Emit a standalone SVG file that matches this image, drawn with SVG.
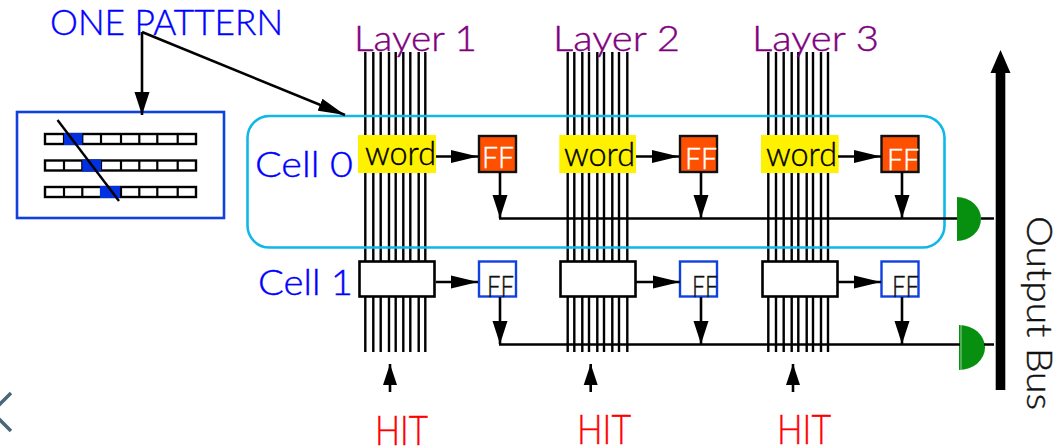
<svg xmlns="http://www.w3.org/2000/svg" width="1060" height="447" viewBox="0 0 1060 447">
<style>
text{font-family:"Lato","Open Sans","Liberation Sans",sans-serif;font-weight:300;stroke-width:.4px}
.lbl{font-size:36px;fill:#0000ff;stroke:#0000ff}
.layer{font-size:36px;fill:#800080;stroke:#800080}
.hit{font-size:42px;fill:#ff0000;stroke:#ff0000}
.word{font-size:33px;fill:#000;stroke:#000}
.ffw{font-size:29px;fill:#fff;stroke:#fff}
.ffk{font-size:29px;fill:#111;stroke:#111}
.out{font-size:36px;fill:#111;stroke:#111}
.bus{stroke:#000;stroke-width:2.6;fill:none}
.conn{stroke:#000;stroke-width:2.6;fill:none}
.wires line{stroke:#000;stroke-width:2.4}
.cellbox{fill:#fff;stroke:#000;stroke-width:2.6}
.ffo{fill:#ff5000;stroke:#111;stroke-width:2.4}
.ffb{fill:#fff;stroke:#1040e0;stroke-width:2.4}
.yellow{fill:#fff200}
.gate{fill:#078f10}
.row{fill:#fff;stroke:#000;stroke-width:2.4}
.div{stroke:#000;stroke-width:2.2;fill:none}
.sel{fill:#0030e0}
</style>
<defs>
<marker id="hm" markerUnits="userSpaceOnUse" markerWidth="28" markerHeight="14" refX="27" refY="7" orient="auto"><path d="M0 0.5L27 7L0 13.5z"/></marker>
<marker id="hd" markerUnits="userSpaceOnUse" markerWidth="24" markerHeight="16" refX="23" refY="8" orient="auto"><path d="M0 0.5L23 8L0 15.5z"/></marker>
<marker id="hh" markerUnits="userSpaceOnUse" markerWidth="22" markerHeight="16" refX="21" refY="8" orient="auto"><path d="M0 1L21 8L0 15z"/></marker>
</defs>

<g id="wires-layer-1" class="wires">
<line x1="365.3" y1="52" x2="365.3" y2="352"/><line x1="373.3" y1="52" x2="373.3" y2="352"/><line x1="380.7" y1="52" x2="380.7" y2="352"/><line x1="389" y1="52" x2="389" y2="352"/><line x1="395.7" y1="52" x2="395.7" y2="352"/><line x1="403.3" y1="52" x2="403.3" y2="352"/><line x1="410.3" y1="52" x2="410.3" y2="352"/><line x1="418.7" y1="52" x2="418.7" y2="352"/><line x1="425.3" y1="52" x2="425.3" y2="352"/>
</g>
<g id="wires-layer-2" class="wires">
<line x1="567.7" y1="52" x2="567.7" y2="352"/><line x1="574.3" y1="52" x2="574.3" y2="352"/><line x1="582.3" y1="52" x2="582.3" y2="352"/><line x1="589" y1="52" x2="589" y2="352"/><line x1="597.3" y1="52" x2="597.3" y2="352"/><line x1="604" y1="52" x2="604" y2="352"/><line x1="612.3" y1="52" x2="612.3" y2="352"/><line x1="619" y1="52" x2="619" y2="352"/><line x1="627.3" y1="52" x2="627.3" y2="352"/>
</g>
<g id="wires-layer-3" class="wires">
<line x1="768.3" y1="52" x2="768.3" y2="352"/><line x1="776" y1="52" x2="776" y2="352"/><line x1="783.7" y1="52" x2="783.7" y2="352"/><line x1="791.7" y1="52" x2="791.7" y2="352"/><line x1="798.3" y1="52" x2="798.3" y2="352"/><line x1="806.7" y1="52" x2="806.7" y2="352"/><line x1="813" y1="52" x2="813" y2="352"/><line x1="821" y1="52" x2="821" y2="352"/><line x1="828" y1="52" x2="828" y2="352"/>
</g>

<g id="layer-labels">
<text class="layer" x="354" y="51" textLength="123" lengthAdjust="spacingAndGlyphs">Layer 1</text>
<text class="layer" x="553" y="51" textLength="127" lengthAdjust="spacingAndGlyphs">Layer 2</text>
<text class="layer" x="752" y="51" textLength="127" lengthAdjust="spacingAndGlyphs">Layer 3</text>
</g>

<g id="cell-0-frame"><rect x="247.500" y="116" width="697" height="131.500" rx="22" fill="none" stroke="#10b8e8" stroke-width="2.600"/></g>

<g id="pattern-label"><text class="lbl" x="50" y="35" textLength="233" lengthAdjust="spacingAndGlyphs">ONE PATTERN</text></g>
<g id="cell-0-label"><text class="lbl" x="255" y="177" textLength="98" lengthAdjust="spacingAndGlyphs">Cell 0</text></g>
<g id="cell-1-label"><text class="lbl" x="258" y="295" textLength="95" lengthAdjust="spacingAndGlyphs">Cell 1</text></g>

<g id="pattern-box">
<rect x="17" y="112" width="207" height="106" fill="#fff" stroke="#1040e0" stroke-width="2.600"/>
<rect class="row" x="45" y="134" width="151" height="10"/>
<rect class="row" x="45" y="160.500" width="151" height="10"/>
<rect class="row" x="45" y="187" width="151" height="10"/>
<path class="div" d="M64 134v10M82.300 134v10M101 134v10M121 134v10M139.300 134v10M157.300 134v10M177.700 134v10M64 160.500v10M82.300 160.500v10M101 160.500v10M121 160.500v10M139.300 160.500v10M157.300 160.500v10M177.700 160.500v10M64 187v10M82.300 187v10M101 187v10M121 187v10M139.300 187v10M157.300 187v10M177.700 187v10"/>
<rect class="sel" x="64" y="133" width="18.300" height="12"/>
<rect class="sel" x="82.300" y="159.500" width="18.700" height="12"/>
<rect class="sel" x="100" y="186" width="20" height="12"/>
<line x1="57.500" y1="120" x2="119" y2="201" stroke="#000" stroke-width="2.400"/>
</g>

<g id="word-0-0"><rect class="yellow" x="358" y="135" width="78" height="38"/><text class="word" x="365" y="165" textLength="71" lengthAdjust="spacingAndGlyphs">word</text></g>
<g id="word-0-1"><rect class="yellow" x="559.300" y="135" width="76.700" height="38"/><text class="word" x="564" y="166" textLength="71" lengthAdjust="spacingAndGlyphs">word</text></g>
<g id="word-0-2"><rect class="yellow" x="761" y="135" width="77.700" height="38"/><text class="word" x="766" y="166" textLength="71" lengthAdjust="spacingAndGlyphs">word</text></g>

<g id="ff-0-0"><rect class="ffo" x="479" y="136" width="37" height="36"/><text class="ffw" x="482" y="168" textLength="32" lengthAdjust="spacingAndGlyphs">FF</text></g>
<g id="ff-0-1"><rect class="ffo" x="680" y="136" width="37" height="36"/><text class="ffw" x="685" y="169" textLength="32" lengthAdjust="spacingAndGlyphs">FF</text></g>
<g id="ff-0-2"><rect class="ffo" x="881.500" y="136" width="37" height="36"/><text class="ffw" x="887" y="170" textLength="32" lengthAdjust="spacingAndGlyphs">FF</text></g>

<g id="word-1-0"><rect class="cellbox" x="359.500" y="261.500" width="75" height="35"/></g>
<g id="word-1-1"><rect class="cellbox" x="560.500" y="261.500" width="75" height="35"/></g>
<g id="word-1-2"><rect class="cellbox" x="762.500" y="261.500" width="75" height="35"/></g>

<g id="ff-1-0"><rect class="ffb" x="479" y="261.500" width="37" height="35"/><text class="ffk" x="487" y="297" textLength="27" lengthAdjust="spacingAndGlyphs">FF</text></g>
<g id="ff-1-1"><rect class="ffb" x="680" y="261.500" width="37" height="35"/><text class="ffk" x="692" y="297" textLength="26" lengthAdjust="spacingAndGlyphs">FF</text></g>
<g id="ff-1-2"><rect class="ffb" x="881.500" y="261.500" width="37" height="35"/><text class="ffk" x="892" y="297" textLength="27" lengthAdjust="spacingAndGlyphs">FF</text></g>

<g id="gate-0"><path class="gate" d="M957 197A24 22 0 0 1 957 241z"/></g>
<g id="gate-1"><path class="gate" d="M959 325A26 22.500 0 0 1 959 370z"/><line x1="961" y1="325" x2="961" y2="370" stroke="#bfe0c0" stroke-width="0.800"/></g>

<g id="connectors">
<path class="conn" marker-end="url(#hd)" d="M142 32V115"/>
<path class="conn" marker-end="url(#hm)" d="M142 32L345 115"/>
<path class="conn" marker-end="url(#hm)" d="M436 156.500H478"/>
<path class="conn" marker-end="url(#hm)" d="M636 156.500H679"/>
<path class="conn" marker-end="url(#hm)" d="M838 156.500H881"/>
<path class="conn" marker-end="url(#hm)" d="M436 282H478"/>
<path class="conn" marker-end="url(#hm)" d="M636 282H680"/>
<path class="conn" marker-end="url(#hm)" d="M838 282H881"/>
<path class="conn" marker-end="url(#hd)" d="M500 172V218"/>
<path class="conn" marker-end="url(#hd)" d="M701 172V218"/>
<path class="conn" marker-end="url(#hd)" d="M902 172V218"/>
<path class="conn" marker-end="url(#hd)" d="M500 297V344"/>
<path class="conn" marker-end="url(#hd)" d="M701 297V344"/>
<path class="conn" marker-end="url(#hd)" d="M902 297V344"/>
<path class="bus" d="M499 218.500H957M981 218.500H994"/>
<path class="bus" d="M499 344.500H960M984 344.500H994"/>
<path class="conn" marker-end="url(#hh)" d="M390 392V364"/>
<path class="conn" marker-end="url(#hh)" d="M590.700 392V364"/>
<path class="conn" marker-end="url(#hh)" d="M793 392V364"/>
</g>

<g id="output-bus">
<rect x="995.700" y="72" width="9.600" height="318"/>
<path d="M1000.500 50L1010.500 73H990.500z"/>
<text class="out" transform="translate(1027 216) rotate(90)" textLength="194" lengthAdjust="spacingAndGlyphs">Output Bus</text>
</g>

<g id="hit-labels">
<text class="hit" x="375" y="445" textLength="53" lengthAdjust="spacingAndGlyphs">HIT</text>
<text class="hit" x="577" y="444" textLength="54" lengthAdjust="spacingAndGlyphs">HIT</text>
<text class="hit" x="777" y="444" textLength="54" lengthAdjust="spacingAndGlyphs">HIT</text>
</g>

<g id="back-chevron"><polyline points="11,393 -8,412 11,431" fill="none" stroke="#4a6878" stroke-width="3.500"/></g>
</svg>
